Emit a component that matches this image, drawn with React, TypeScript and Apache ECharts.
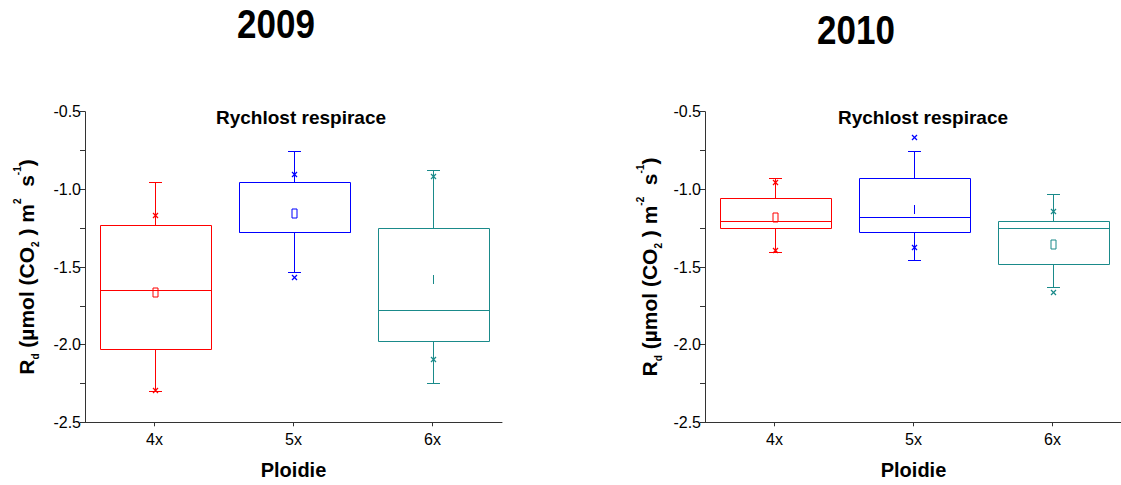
import React, { useEffect, useRef } from "react";
import * as echarts from "echarts";

// Ploidy groups on the category axis
const categories = ["4x", "5x", "6x"];

// 2009 box statistics (Rd, µmol CO2 m-2 s-1)
const whiskerLow2009 = [-2.3, -1.53, -2.25];
const boxLow2009 = [-2.03, -1.277, -1.975];
const median2009 = [-1.65, -1.277, -1.777];
const boxHigh2009 = [-1.227, -0.955, -1.25];
const whiskerHigh2009 = [-0.953, -0.75, -0.878];
const mean2009 = [-1.66, -1.155, -1.577];
const extremeLow2009 = [-2.29, -1.566, -2.09];
const extremeHigh2009 = [-1.167, -0.901, -0.914];

// 2010 box statistics
const whiskerLow2010 = [-1.403, -1.453, -1.627];
const boxLow2010 = [-1.249, -1.277, -1.479];
const median2010 = [-1.202, -1.178, -1.251];
const boxHigh2010 = [-1.054, -0.927, -1.203];
const whiskerHigh2010 = [-0.927, -0.751, -1.028];
const mean2010 = [-1.178, -1.127, -1.354];
const extremeLow2010 = [-1.39, -1.369, -1.663];
const extremeHigh2010 = [-0.955, -0.665, -1.137];

// y axis ticks
const yMin = -2.5;
const yMax = -0.5;
const yStep = 0.5;

const groupColors = ["#ff0000", "#0000ff", "#1a8a8a"];
const meanMarkWidth2009 = [5, 5, 0];
const meanMarkWidth2010 = [5, 0, 5];

const FONT = '"Liberation Sans", Arial, sans-serif';

function rows(
  low: number[],
  q1: number[],
  med: number[],
  q3: number[],
  high: number[],
  mean: number[],
  exLow: number[],
  exHigh: number[]
) {
  return categories.map((_, i) => [i, low[i], q1[i], med[i], q3[i], high[i], mean[i], exLow[i], exHigh[i]]);
}

function makeRenderItem(meanWidths: number[]) {
  return (params: any, api: any) => {
    const idx = api.value(0);
    const color = groupColors[params.dataIndex];
    const band = api.size([1, 0])[0];
    const half = band * 0.4;
    const cap = 6.5;
    const px = (v: number) => Math.round(v) + 0.5;
    const y = (dim: number) => px(api.coord([idx, api.value(dim)])[1]);
    const cx = px(api.coord([idx, 0])[0]);
    const lineStyle = { stroke: color, lineWidth: 1, fill: "none" };
    const yLow = y(1);
    const yQ1 = y(2);
    const yMed = y(3);
    const yQ3 = y(4);
    const yHigh = y(5);
    const yMean = y(6);
    const yExLow = y(7);
    const yExHigh = y(8);
    const left = px(cx - half);
    const right = px(cx + half);
    const line = (x1: number, y1: number, x2: number, y2: number, lw = 1) => ({
      type: "line",
      shape: { x1, y1, x2, y2 },
      style: { ...lineStyle, lineWidth: lw },
    });
    const cross = (yc: number) => [
      line(cx - 2.5, yc - 2.5, cx + 2.5, yc + 2.5, 1.3),
      line(cx - 2.5, yc + 2.5, cx + 2.5, yc - 2.5, 1.3),
    ];
    const mw = meanWidths[params.dataIndex];
    return {
      type: "group",
      children: [
        line(cx, yQ3, cx, yHigh),
        line(cx, yQ1, cx, yLow),
        line(cx - cap, yHigh, cx + cap, yHigh),
        line(cx - cap, yLow, cx + cap, yLow),
        {
          type: "rect",
          shape: { x: left, y: yQ3, width: right - left, height: yQ1 - yQ3 },
          style: lineStyle,
        },
        line(left, yMed, right, yMed),
        {
          type: "rect",
          shape: { x: cx - mw / 2, y: yMean - 4.5, width: mw, height: 9 },
          style: lineStyle,
        },
        ...cross(yExLow),
        ...cross(yExHigh),
      ],
    };
  };
}

function yName(m2: string) {
  return `{b|R}{sub|d}{b| (µmol (CO}{sub|2}{b| ) m}{sup|${m2}}{b|  s}{sup|-1}{b|)}`;
}

const nameRich = {
  b: { fontSize: 21, fontWeight: "bold", lineHeight: 28, fontFamily: FONT, color: "#000" },
  sub: { fontSize: 10, fontWeight: "bold", lineHeight: 28, verticalAlign: "bottom", fontFamily: FONT, color: "#000" },
  sup: { fontSize: 10, fontWeight: "bold", lineHeight: 28, verticalAlign: "top", fontFamily: FONT, color: "#000" },
};

function makeXAxis(gridIndex: number) {
  return {
    type: "category",
    gridIndex,
    data: categories,
    axisLine: { show: true, lineStyle: { color: "#333", width: 1 } },
    axisTick: { show: true, alignWithLabel: true, length: 4, lineStyle: { color: "#333" } },
    axisLabel: { color: "#000", fontSize: 16, fontFamily: FONT, margin: 9 },
    name: "Ploidie",
    nameLocation: "middle",
    nameGap: 38,
    nameTextStyle: { color: "#000", fontSize: 20, fontWeight: "bold", fontFamily: FONT },
    splitLine: { show: false },
  };
}

function makeYAxis(gridIndex: number, m2: string, nameGap: number) {
  return {
    type: "value",
    gridIndex,
    min: yMin,
    max: yMax,
    interval: yStep,
    axisLine: { show: true, lineStyle: { color: "#333", width: 1 } },
    axisTick: { show: true, length: 5, lineStyle: { color: "#333" } },
    minorTick: { show: true, splitNumber: 2, length: 5, lineStyle: { color: "#333" } },
    splitLine: { show: false },
    minorSplitLine: { show: false },
    axisLabel: {
      color: "#000",
      fontSize: 16,
      fontFamily: FONT,
      margin: 4,
      formatter: (v: number) => v.toFixed(1),
    },
    name: yName(m2),
    nameLocation: "middle",
    nameGap,
    nameTextStyle: { rich: nameRich },
  };
}

function titleText(text: string, x: number, y: number, size: number, scaleY = 1) {
  return {
    type: "text",
    x,
    y,
    scaleY,
    style: {
      text,
      fontSize: size,
      fontWeight: "bold",
      fontFamily: FONT,
      fill: "#000",
      align: "center",
      verticalAlign: "middle",
    },
  };
}

export default function App() {
  const ref = useRef<HTMLDivElement>(null);

  useEffect(() => {
    document.body.style.margin = "0";
    if (!ref.current) return;
    const chart = echarts.init(ref.current, undefined, { renderer: "svg" });
    chart.setOption({
      animation: false,
      backgroundColor: "#fff",
      grid: [
        { left: 85, top: 111.7, width: 417, height: 310.6, outerBoundsMode: "none" },
        { left: 705, top: 111.7, width: 417, height: 310.6, outerBoundsMode: "none" },
      ],
      xAxis: [makeXAxis(0), makeXAxis(1)],
      yAxis: [makeYAxis(0, "2", 45), makeYAxis(1, "-2", 42)],
      graphic: [
        titleText("2009", 276, 24, 35, 1.15),
        titleText("2010", 856, 30, 35, 1.15),
        titleText("Rychlost respirace", 301, 117, 19),
        titleText("Rychlost respirace", 923, 117, 19),
      ],
      series: [
        {
          type: "custom",
          xAxisIndex: 0,
          yAxisIndex: 0,
          renderItem: makeRenderItem(meanMarkWidth2009),
          encode: { x: 0, y: [1, 2, 3, 4, 5, 6, 7, 8] },
          data: rows(
            whiskerLow2009,
            boxLow2009,
            median2009,
            boxHigh2009,
            whiskerHigh2009,
            mean2009,
            extremeLow2009,
            extremeHigh2009
          ),
        },
        {
          type: "custom",
          xAxisIndex: 1,
          yAxisIndex: 1,
          renderItem: makeRenderItem(meanMarkWidth2010),
          encode: { x: 0, y: [1, 2, 3, 4, 5, 6, 7, 8] },
          data: rows(
            whiskerLow2010,
            boxLow2010,
            median2010,
            boxHigh2010,
            whiskerHigh2010,
            mean2010,
            extremeLow2010,
            extremeHigh2010
          ),
        },
      ],
    });
    return () => chart.dispose();
  }, []);

  return <div ref={ref} style={{ width: 1121, height: 485 }} />;
}
